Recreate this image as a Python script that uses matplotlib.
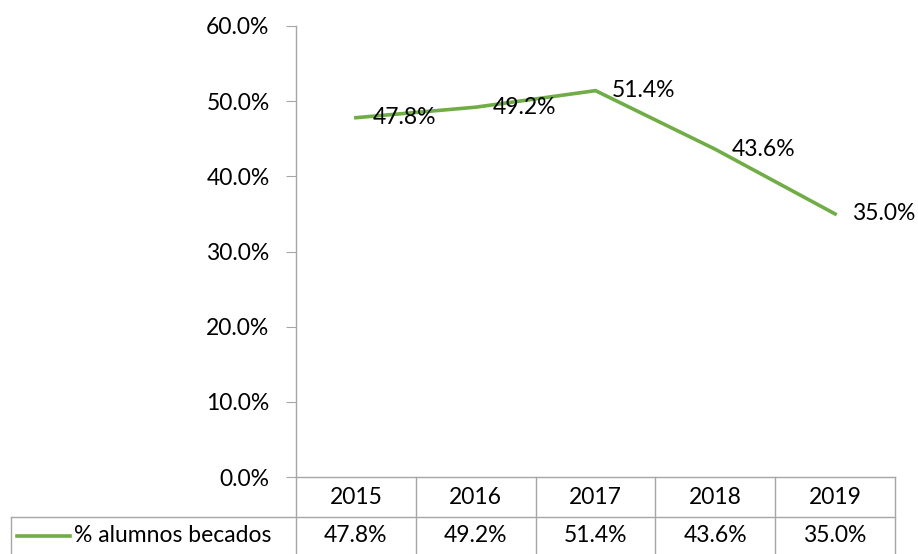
import matplotlib
matplotlib.use("Agg")
import matplotlib.pyplot as plt
from matplotlib.ticker import FuncFormatter
from matplotlib.lines import Line2D

# datos del grafico
years = ["2015", "2016", "2017", "2018", "2019"]
becados = [47.8, 49.2, 51.4, 43.6, 35.0]
serie_nombre = "% alumnos becados"
yticks = [0, 10, 20, 30, 40, 50, 60]

plt.rcParams['font.family'] = ['Lato', 'DejaVu Sans']
GREEN = "#70AD47"
GRID = "#a6a6a6"
FS = 16.5

fig = plt.figure(figsize=(9.18, 5.54), dpi=100)
W, H = 918, 554
left, right, top, bottom = 296, 895, 26, 477
ax = fig.add_axes([left / W, (H - bottom) / H, (right - left) / W, (bottom - top) / H])

x = list(range(len(years)))
ax.plot(x, becados, color=GREEN, lw=2.6, solid_joinstyle="miter", clip_on=False)
for xi, v in zip(x, becados):
    ax.annotate(f"{v:.1f}%", (xi, v), xytext=(12, 0), textcoords="offset points",
                ha="left", va="center", fontsize=FS, color="black")

ax.set_xlim(-0.5, len(years) - 0.5)
ax.set_ylim(0, 60)
ax.set_yticks(yticks)
ax.yaxis.set_major_formatter(FuncFormatter(lambda v, p: f"{v:.1f}%"))
ax.set_xticks([])
ax.tick_params(axis="y", length=7, color=GRID, labelsize=FS, pad=12)
for s in ["top", "right"]:
    ax.spines[s].set_visible(False)
ax.spines["left"].set_color(GRID)
ax.spines["bottom"].set_color(GRID)
ax.spines["left"].set_linewidth(1)
ax.spines["bottom"].set_linewidth(1)

# tabla de datos debajo del eje
ppx = (right - left) / len(years)   # pixeles por categoria
ph = bottom - top
r1 = -40 / ph
r2 = -77 / ph
xl = -0.5 - (left - 11) / ppx
tr = ax.get_xaxis_transform()

def hline(x0, x1, y):
    ax.add_line(Line2D([x0, x1], [y, y], transform=tr, color=GRID, lw=1, clip_on=False))

def vline(xv, y0, y1):
    ax.add_line(Line2D([xv, xv], [y0, y1], transform=tr, color=GRID, lw=1, clip_on=False))

hline(xl, len(years) - 0.5, r1)
for i in range(len(years) + 1):
    vline(i - 0.5, 0, r2)
vline(xl, r1, r2)

for xi, yr, v in zip(x, years, becados):
    ax.text(xi, r1 / 2, yr, transform=tr, ha="center", va="center", fontsize=FS)
    ax.text(xi, (r1 + r2) / 2, f"{v:.1f}%", transform=tr, ha="center", va="center", fontsize=FS)

# clave de leyenda en la tabla
ym = (r1 + r2) / 2
ax.add_line(Line2D([xl + 6 / ppx, xl + 59 / ppx], [ym, ym], transform=tr,
                   color=GREEN, lw=2.6, clip_on=False))
ax.text(xl + 63 / ppx, ym, serie_nombre, transform=tr, ha="left", va="center", fontsize=FS)

fig.savefig("out.png", dpi=100)
